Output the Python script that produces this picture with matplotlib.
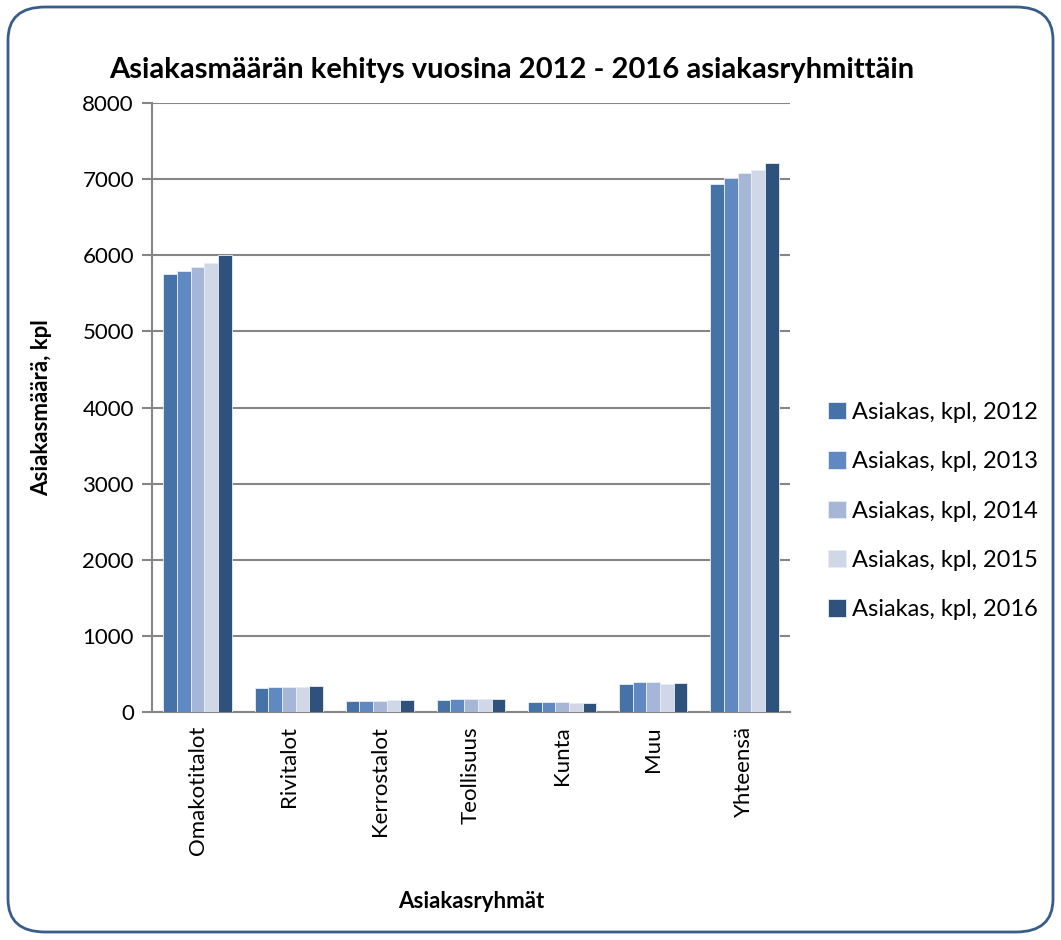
import matplotlib.pyplot as plt
import numpy as np
from matplotlib.patches import FancyBboxPatch

plt.rcParams['font.family'] = ['Lato', 'DejaVu Sans']

categories = ['Omakotitalot', 'Rivitalot', 'Kerrostalot', 'Teollisuus', 'Kunta', 'Muu', 'Yhteensä']
years = ['2012', '2013', '2014', '2015', '2016']
v2012 = [5755, 320, 144, 162, 127, 368, 6932]
v2013 = [5799, 328, 149, 171, 131, 390, 7019]
v2014 = [5847, 328, 149, 171, 127, 394, 7078]
v2015 = [5904, 333, 153, 171, 123, 372, 7117]
v2016 = [6000, 341, 158, 175, 123, 377, 7218]
series = [v2012, v2013, v2014, v2015, v2016]
colors = ['#4572A7', '#6089C2', '#A5B6D6', '#D0D8E8', '#2F527D']

fig = plt.figure(figsize=(10.61, 9.4), dpi=100, facecolor='w')
ax = fig.add_axes([152/1061, 1 - 712/940, (790-152)/1061, (712-103)/940])

# rounded frame round the whole chart
frame = FancyBboxPatch((8/1061, 8/940), 1045/1061, 925/940,
                       boxstyle='round,pad=0,rounding_size=0.035',
                       transform=fig.transFigure, facecolor='none',
                       edgecolor='#385D8A', linewidth=2, zorder=0)
fig.patches.append(frame)

x = np.arange(len(categories))
w = 0.15
for i, vals in enumerate(series):
    ax.bar(x + (i - 2) * w, vals, w, color=colors[i], edgecolor='#E8EDF5',
           linewidth=0.6, label='Asiakas, kpl, ' + years[i], zorder=3)

ax.set_xlim(-0.5, len(categories) - 0.5)
ax.set_ylim(0, 8000)
ax.set_yticks(range(0, 8001, 1000))
ax.yaxis.grid(True, color='#868686', linewidth=1.5, zorder=0)
ax.set_axisbelow(True)
for s in ['top', 'right']:
    ax.spines[s].set_visible(False)
for s in ['left', 'bottom']:
    ax.spines[s].set_color('#868686')
    ax.spines[s].set_linewidth(1.5)
ax.tick_params(axis='y', length=7, width=1.5, color='#868686', labelsize=16, pad=6)
ax.tick_params(axis='x', length=0, labelsize=16, pad=10)
ax.set_xticks(x)
ax.set_xticklabels(categories, rotation=90)

ax.set_ylabel('Asiakasmäärä, kpl', fontsize=16, fontweight='bold', labelpad=22)
ax.set_xlabel('Asiakasryhmät', fontsize=16, fontweight='bold', labelpad=26)
fig.text(512/1061, 1 - 70/940, 'Asiakasmäärän kehitys vuosina 2012 - 2016 asiakasryhmittäin',
         ha='center', va='center', fontsize=21, fontweight='bold')

ax.legend(loc='center left', bbox_to_anchor=(1.027, 0.33), frameon=False,
          fontsize=17, handlelength=0.75, handleheight=0.75, handletextpad=0.25,
          labelspacing=1.2)

fig.savefig('out.png', dpi=100)
